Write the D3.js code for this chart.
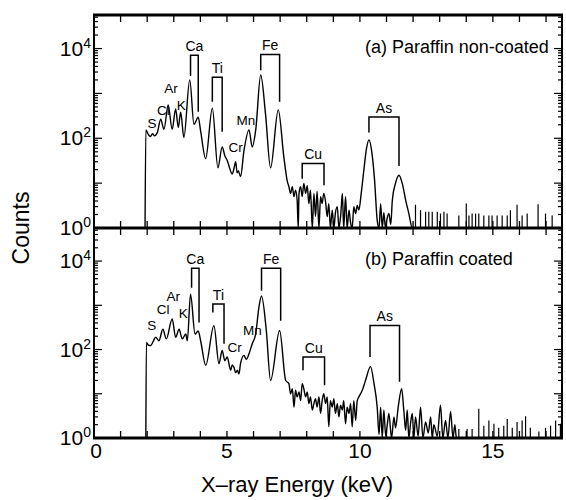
<!DOCTYPE html>
<html>
<head>
<meta charset="utf-8">
<script src="https://cdn.jsdelivr.net/npm/d3@7"></script>
<style>
body { margin: 0; background: #fff; }
text { font-family: "Liberation Sans", Arial, sans-serif; fill: #000; }
</style>
</head>
<body>
<div id="chart"></div>
<script>
// spectra: [energy keV, counts]
var spectrumA = [
  [1.92,1],[1.95,154],[2.05,120],[2.12,110],[2.2,126],[2.28,113],[2.38,134],[2.51,265],[2.63,158],[2.79,550],[2.94,158],
  [3.07,450],[3.17,175],[3.26,380],[3.38,104],[3.6,2000],[3.76,205],[3.92,295],[4.01,145],[4.2,35],[4.45,470],[4.66,22],
  [4.82,64],[4.92,41],[5.01,32],[5.2,16],[5.27,22],[5.33,30],[5.38,17],[5.43,19],[5.51,14],[5.64,53],[5.83,154],[5.95,64],
  [6.08,150],[6.27,2570],[6.45,350],[6.64,22],[6.93,430],[7.14,38],[7.27,11],
  [7.33,8.3],[7.39,5.9],[7.46,8.3],[7.52,5],[7.58,7],[7.64,4.2],[7.68,1],[7.71,5.9],[7.77,8.3],[7.83,5],[7.89,9.8],
  [7.96,5.9],[8.02,8.8],[8.08,3.5],[8.14,7],[8.21,1],[8.27,5.9],[8.33,1.8],[8.39,6.5],[8.46,1],[8.52,5],[8.58,3.5],
  [8.64,5.9],[8.71,3.8],[8.77,1.8],[8.83,3.5],[8.89,1],[8.96,2.5],[9.02,1],[9.08,2.2],[9.15,3],[9.21,1],[9.28,2],
  [9.34,5.9],[9.39,1],[9.46,5],[9.52,1],[9.59,2.5],[9.65,1.3],[9.71,1],[9.77,3],[9.84,2.1],[9.9,3.2],[9.96,2.5],
  [10.05,6],[10.15,20],[10.25,60],[10.34,92],[10.45,48],[10.55,12],[10.65,1.5],[10.72,1],[10.78,3.5],[10.84,1],
  [10.9,2.2],[10.96,1],[11.02,1.6],[11.09,2.1],[11.16,1.2],[11.22,4.2],[11.34,10],[11.47,15],[11.59,10],[11.72,4.2],
  [11.84,2.1],[11.97,1],[17.6,1]
];
var spikesA = [
  [12.09,3.3],[12.28,2.5],[12.47,2.3],[12.59,2.3],[12.72,2.3],[12.91,2.3],[13.03,2.1],[13.16,2.3],[13.28,2.1],[13.72,1.9],
  [14.0,3.5],[14.1,1.9],[14.22,2.1],[14.35,2.1],[14.47,2.1],[14.66,1.9],[14.85,1.9],[14.97,1.9],[15.16,1.9],[15.35,1.9],
  [15.54,1.9],[15.66,2.5],[15.91,3.3],[16.1,1.9],[16.29,2.1],[16.7,3.4],[16.98,2.1],[17.23,1.9]
];
var spectrumB = [
  [1.95,1],[1.97,145],[2.05,125],[2.13,123],[2.22,150],[2.32,190],[2.44,158],[2.59,288],[2.72,174],[2.94,490],[3.07,190],
  [3.2,288],[3.32,174],[3.45,224],[3.51,158],[3.63,1780],[3.8,224],[3.92,263],[4.01,158],[4.2,44],[4.51,347],[4.7,48],
  [4.82,95],[4.92,56],[5.01,68],[5.14,34],[5.2,45],[5.26,40],[5.33,30],[5.39,34],[5.45,28],[5.51,48],[5.64,74],[5.72,60],
  [5.83,80],[5.95,135],[6.08,224],[6.2,890],[6.3,1620],[6.48,270],[6.64,20],[6.98,270],[7.21,20],[7.33,17],
  [7.39,10],[7.46,13],[7.52,5],[7.58,12],[7.64,8.5],[7.71,11],[7.77,7],[7.83,17],[7.89,13],[7.96,8.5],[8.02,11],[8.08,6],
  [8.14,8.5],[8.21,4.3],[8.27,6],[8.33,7.7],[8.39,5],[8.46,8.5],[8.52,3.6],[8.58,7],[8.64,10],[8.71,6],[8.77,8.5],
  [8.83,1.8],[8.89,7],[8.96,5],[9.02,7.7],[9.08,3.6],[9.15,6],[9.21,3],[9.27,5.5],[9.34,4.3],[9.39,7],[9.46,2.1],[9.52,5],
  [9.59,3.6],[9.65,6],[9.71,1.8],[9.77,7],[9.84,2.5],[9.9,7],[9.96,8.5],[10.09,12],[10.21,20],[10.4,41],[10.53,17],
  [10.65,5],[10.72,1.2],[10.78,5],[10.84,1],[10.9,4.3],[10.97,1.1],[11.03,2],[11.09,3.6],[11.19,1],[11.28,3],[11.34,1.7],
  [11.44,5],[11.57,13],[11.65,4.3],[11.72,1.5],[11.78,4.3],[11.84,1],[11.91,2.3],[11.97,3.6],[12.03,1],[12.09,3],
  [12.19,1.1],[12.28,5],[12.37,1],[12.47,2.3],[12.57,1.3],[12.66,3],[12.72,1],[12.78,2],[12.91,1.1],[13.03,5.5],
  [13.12,1],[13.22,2.5],[13.31,1],[13.41,4],[13.5,1],[13.57,2],[13.63,1],[17.6,1]
];
var spikesB = [
  [13.72,1.6],[14.03,1.6],[14.22,1.6],[14.47,4.6],[14.66,1.9],[14.85,2.5],[15.04,2.1],[15.22,1.7],[15.41,1.9],[15.54,2.7],
  [15.73,1.7],[15.91,2.3],[16.1,2.5],[16.23,3.1],[16.41,1.7],[16.73,1.4],[16.98,1.7],[17.17,1.9],[17.36,2.5],[17.54,2.1]
];

// peak brackets: element, Ka / Kb energies, bracket top, ends
var bracketsA = [
  {el: "Ca", e1: 3.63, e2: 3.92, top: 7100, c1: 2450, c2: 390},
  {el: "Ti", e1: 4.45, e2: 4.82, top: 2300, c1: 650, c2: 140},
  {el: "Fe", e1: 6.27, e2: 6.98, top: 7400, c1: 3300, c2: 650},
  {el: "Cu", e1: 7.83, e2: 8.65, top: 27.5, c1: 12.6, c2: 9},
  {el: "As", e1: 10.34, e2: 11.47, top: 300, c1: 135, c2: 24}
];
var bracketsB = [
  {el: "Ca", e1: 3.67, e2: 3.95, top: 6900, c1: 2500, c2: 410},
  {el: "Ti", e1: 4.47, e2: 4.89, top: 1070, c1: 690, c2: 135},
  {el: "Fe", e1: 6.30, e2: 7.02, top: 6900, c1: 2140, c2: 450},
  {el: "Cu", e1: 7.86, e2: 8.67, top: 68, c1: 34, c2: 15.5},
  {el: "As", e1: 10.38, e2: 11.49, top: 350, c1: 68, c2: 18.6}
];
var elementsA = [
  {el: "S", e: 2.18, c: 167}, {el: "Cl", e: 2.61, c: 330}, {el: "Ar", e: 2.90, c: 1000},
  {el: "K", e: 3.28, c: 427}, {el: "Cr", e: 5.33, c: 50}, {el: "Mn", e: 5.71, c: 200}
];
var elementsB = [
  {el: "S", e: 2.17, c: 275}, {el: "Cl", e: 2.6, c: 640}, {el: "Ar", e: 2.98, c: 1250},
  {el: "K", e: 3.36, c: 510}, {el: "Cr", e: 5.29, c: 89}, {el: "Mn", e: 5.96, c: 214}
];
var titles = ["(a) Paraffin non-coated", "(b) Paraffin coated"];
var xTickLabels = [0, 5, 10, 15];
var yTickLabels = [0, 2, 4];

var width = 566,
  height = 500;

var svg = d3.select("#chart")
  .append("svg")
  .attr("width", width)
  .attr("height", height)

var x = d3.scaleLinear().domain([0, 17.6]).range([94, 562])

var panels = [
  {y: d3.scaleLog().domain([1, 56000]).range([228, 15]), spec: spectrumA, spikes: spikesA, brackets: bracketsA, els: elementsA, title: titles[0], titleY: 53},
  {y: d3.scaleLog().domain([1, 56000]).range([438, 228]), spec: spectrumB, spikes: spikesB, brackets: bracketsB, els: elementsB, title: titles[1], titleY: 265}
]

var minor = [];
for (var d = 0; d <= 4; d++) {
  for (var m = 1; m <= 9; m++) {
    if (m * Math.pow(10, d) <= 56000) minor.push({v: m * Math.pow(10, d), major: m === 1});
  }
}
var xTicks = d3.range(1, 18);

panels.forEach(function(p) {
  var y = p.y;
  var g = svg.append("g");
  var y0 = y.range()[0], y1 = y.range()[1];

  var line = d3.line()
    .curve(d3.curveMonotoneX)
    .x(function(d) { return x(d[0]); })
    .y(function(d) { return y(d[1]); });

  g.append("path")
    .datum(p.spec)
    .attr("d", line)
    .attr("fill", "none")
    .attr("stroke", "#000")
    .attr("stroke-width", 1.4)

  g.selectAll(".spike")
    .data(p.spikes)
    .enter().append("line")
    .attr("x1", function(d) { return x(d[0]); })
    .attr("x2", function(d) { return x(d[0]); })
    .attr("y1", y(1))
    .attr("y2", function(d) { return y(d[1]); })
    .attr("stroke", "#000")
    .attr("stroke-width", 1.2)

  g.selectAll(".bracket")
    .data(p.brackets)
    .enter().append("path")
    .attr("d", function(d) {
      return "M" + x(d.e1) + "," + y(d.c1) + "V" + y(d.top) + "H" + x(d.e2) + "V" + y(d.c2);
    })
    .attr("fill", "none")
    .attr("stroke", "#000")
    .attr("stroke-width", 1.5)

  g.selectAll(".blabel")
    .data(p.brackets)
    .enter().append("text")
    .attr("x", function(d) { return (x(d.e1) + x(d.e2)) / 2; })
    .attr("y", function(d) { return y(d.top) - 4; })
    .attr("text-anchor", "middle")
    .attr("font-size", 14)
    .text(function(d) { return d.el; })

  g.selectAll(".elabel")
    .data(p.els)
    .enter().append("text")
    .attr("x", function(d) { return x(d.e); })
    .attr("y", function(d) { return y(d.c); })
    .attr("text-anchor", "middle")
    .attr("font-size", 13.5)
    .text(function(d) { return d.el; })

  // log ticks, left and right, pointing inward
  g.selectAll(".ytl")
    .data(minor)
    .enter().append("line")
    .attr("x1", x(0))
    .attr("x2", function(d) { return x(0) + (d.major ? 8 : 4); })
    .attr("y1", function(d) { return y(d.v); })
    .attr("y2", function(d) { return y(d.v); })
    .attr("stroke", "#000")
    .attr("stroke-width", 1.2)

  g.selectAll(".ytr")
    .data(minor)
    .enter().append("line")
    .attr("x1", x(17.6))
    .attr("x2", function(d) { return x(17.6) - (d.major ? 8 : 4); })
    .attr("y1", function(d) { return y(d.v); })
    .attr("y2", function(d) { return y(d.v); })
    .attr("stroke", "#000")
    .attr("stroke-width", 1.2)

  g.selectAll(".xtt")
    .data(xTicks)
    .enter().append("line")
    .attr("x1", function(d) { return x(d); })
    .attr("x2", function(d) { return x(d); })
    .attr("y1", y1)
    .attr("y2", y1 + 7)
    .attr("stroke", "#000")
    .attr("stroke-width", 1.3)

  g.selectAll(".xtb")
    .data(xTicks)
    .enter().append("line")
    .attr("x1", function(d) { return x(d); })
    .attr("x2", function(d) { return x(d); })
    .attr("y1", y0)
    .attr("y2", y0 - 7)
    .attr("stroke", "#000")
    .attr("stroke-width", 1.3)

  var yl = g.selectAll(".ylab")
    .data(yTickLabels)
    .enter().append("text")
    .attr("x", 91)
    .attr("y", function(d) { return y(Math.pow(10, d)) + 7; })
    .attr("text-anchor", "end")
    .attr("font-size", 21)
  yl.append("tspan").text("10")
  yl.append("tspan")
    .attr("dy", -8)
    .attr("font-size", 14)
    .text(function(d) { return d; })

  g.append("text")
    .attr("x", 365)
    .attr("y", p.titleY)
    .attr("font-size", 18)
    .text(p.title)
})

// frame
var frame = svg.append("g").attr("stroke", "#000").attr("fill", "none")
frame.append("line").attr("x1", x(0) - 1).attr("x2", x(17.6) + 1).attr("y1", 15).attr("y2", 15).attr("stroke-width", 3)
frame.append("line").attr("x1", x(0) - 1).attr("x2", x(17.6) + 1).attr("y1", 228).attr("y2", 228).attr("stroke-width", 3)
frame.append("line").attr("x1", x(0) - 1).attr("x2", x(17.6) + 1).attr("y1", 438).attr("y2", 438).attr("stroke-width", 3)
frame.append("line").attr("x1", x(0)).attr("x2", x(0)).attr("y1", 15).attr("y2", 438).attr("stroke-width", 2)
frame.append("line").attr("x1", x(17.6)).attr("x2", x(17.6)).attr("y1", 15).attr("y2", 438).attr("stroke-width", 2)

svg.selectAll(".xlab")
  .data(xTickLabels)
  .enter().append("text")
  .attr("x", function(d) { return x(d) + (d === 0 ? 2 : 0); })
  .attr("y", 458)
  .attr("text-anchor", "middle")
  .attr("font-size", 21)
  .text(function(d) { return d; })

svg.append("text")
  .attr("x", 297)
  .attr("y", 492)
  .attr("text-anchor", "middle")
  .attr("font-size", 22)
  .text("X\u2013ray Energy (keV)")

svg.append("text")
  .attr("transform", "translate(29,228) rotate(-90)")
  .attr("text-anchor", "middle")
  .attr("font-size", 23)
  .text("Counts")
</script>
</body>
</html>
